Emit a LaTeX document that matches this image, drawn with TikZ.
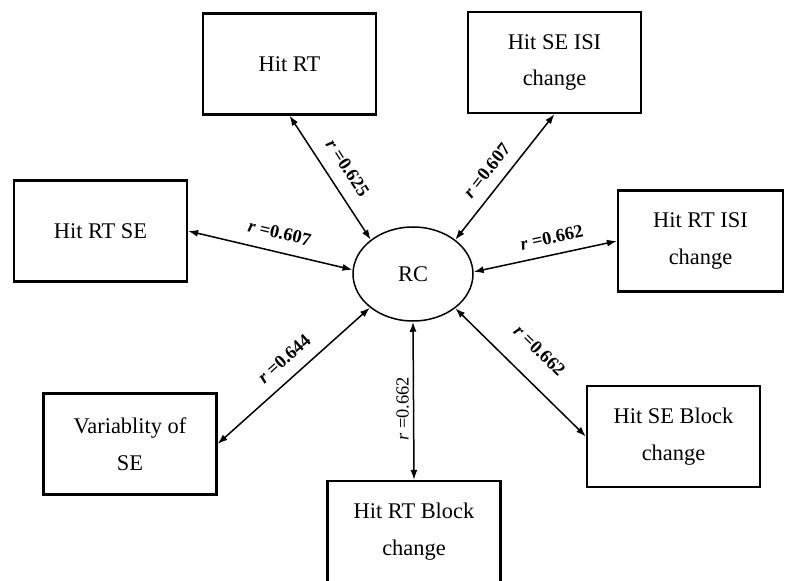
\documentclass[tikz,border=0pt]{standalone}
\usepackage{fontspec}
\setmainfont{Liberation Serif}
\usetikzlibrary{shapes,arrows.meta}

\tikzset{
  measure/.style={draw, line width=2.2bp, minimum width=173bp, minimum height=101bp,
    align=center, inner sep=2bp, font=\fontsize{22.5}{37}\selectfont},
  corr/.style={line width=1.5bp, {Latex[length=10bp,width=7bp]}-{Latex[length=10bp,width=7bp]}},
  rlabel/.style={inner sep=1bp, font=\fontsize{18.5}{21}\selectfont\bfseries}
}
\newcommand{\rval}[1]{\textit{r} =#1}

\begin{document}
\begin{tikzpicture}[sloped, x=1bp, y=-1bp]
        \useasboundingbox (0,0) rectangle (786,581);

        \node[ellipse, draw, line width=1.5bp, minimum width=120bp, minimum height=94bp,
          inner sep=0pt, font=\fontsize{22.5}{26}\selectfont] (rc) at (413,274) {RC};

        \node[measure] (rt) at (289.5,64) {Hit RT};
        \node[measure] (seisi) at (554.5,62.5) {Hit SE ISI\\change};
        \node[measure] (rtse) at (100.5,231) {Hit RT SE};
        \node[measure, minimum width=165bp] (rtisi) at (700.5,241) {Hit RT ISI\\change};
        \node[measure] (varse) at (130,444) {Variablity of\\SE};
        \node[measure] (seblock) at (673.5,436.5) {Hit SE Block\\change};
        \node[measure] (rtblock) at (414,531.5) {Hit RT Block\\change};

        \draw[corr] (rt.south) -- node[rlabel, pos=.51, above=12bp] {\rval{0.625}} (rc.141);
        \draw[corr] (rc.39) -- node[rlabel, pos=.46, above=10bp] {\rval{0.607}} (seisi.south);
        \draw[corr] (rtse.east) -- node[rlabel, pos=.53, above=11bp] {\rval{0.607}} (rc.176);
        \draw[corr] (rc.2) -- node[rlabel, pos=.57, above=9bp] {\rval{0.662}} (rtisi.west);
        \draw[corr] (varse.east) -- node[rlabel, pos=.52, above=11bp] {\rval{0.644}} (rc.218);
        % vertical one is set upright by hand
        \draw[corr] (rc.south) -- node[rlabel, sloped=false, rotate=90, pos=.55, above=3bp,
          font=\fontsize{18.5}{21}\selectfont] {\rval{0.662}} (rtblock.north);
        \draw[corr] (rc.-39) -- node[rlabel, pos=.49, above=21bp] {\rval{0.662}} (seblock.west);
      \end{tikzpicture}
\end{document}
